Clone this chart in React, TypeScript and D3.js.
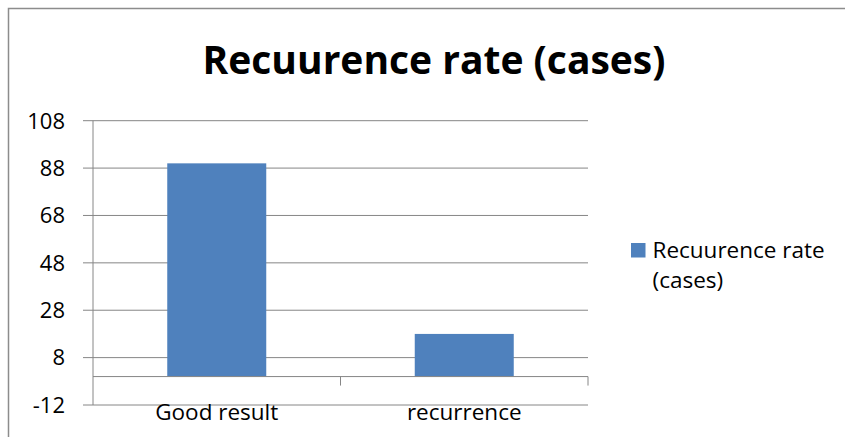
import React from "react";
import * as d3 from "d3";

const categories = ["Good result", "recurrence"];
const values = [90, 18];
const yTicks = [-12, 8, 28, 48, 68, 88, 108];
const title = "Recuurence rate (cases)";
const legendLines = ["Recuurence rate", "(cases)"];

const W = 845;
const H = 437;
const FONT = "'Open Sans', sans-serif";

export default function App() {
  const left = 93;
  const right = 588;
  const top = 120.7;
  const bottom = 405;
  const y = d3.scaleLinear().domain([-12, 108]).range([bottom, top]);
  const x = d3.scaleBand<string>().domain(categories).range([left, right]).paddingInner(0.6).paddingOuter(0.3);
  const band = (right - left) / categories.length;
  const y0 = y(0);
  const barColor = "#4F81BD";
  const grid = "#868686";

  return (
    <svg width={W} height={H} style={{ position: "absolute", left: 0, top: 0, background: "#fff" }}>
      <rect x={8.5} y={8.5} width={W} height={H} fill="#fff" stroke="#8c8c8c" strokeWidth={1.5} />
      <text x={434} y={73.5} textAnchor="middle" fontFamily={FONT} fontWeight="bold" fontSize={39} fill="#000">
        {title}
      </text>
      {yTicks.map((t) => (
        <g key={t}>
          <line x1={left - 10} x2={right} y1={y(t)} y2={y(t)} stroke={grid} strokeWidth={1} />
          <text x={65} y={y(t) + 7.8} textAnchor="end" fontFamily={FONT} fontSize={22} fill="#000">
            {t}
          </text>
        </g>
      ))}
      <line x1={left} x2={left} y1={top} y2={bottom} stroke={grid} strokeWidth={1} />
      {categories.map((c, i) => (
        <rect
          key={c}
          x={x(c)}
          width={x.bandwidth()}
          y={y(Math.max(0, values[i]))}
          height={Math.abs(y(values[i]) - y0)}
          fill={barColor}
        />
      ))}
      <line x1={left} x2={right} y1={y0} y2={y0} stroke={grid} strokeWidth={1} />
      {categories.map((c, i) => (
        <line key={"t" + c} x1={left + band * (i + 1)} x2={left + band * (i + 1)} y1={y0} y2={y0 + 9} stroke={grid} strokeWidth={1} />
      ))}
      {categories.map((c, i) => (
        <text key={"l" + c} x={left + band * (i + 0.5)} y={420} textAnchor="middle" fontFamily={FONT} fontSize={22.5} fill="#000">
          {c}
        </text>
      ))}
      <rect x={631} y={243} width={14.5} height={14.5} fill={barColor} />
      {legendLines.map((l, i) => (
        <text key={l} x={652.5} y={258 + i * 30} fontFamily={FONT} fontSize={22.5} fill="#000">
          {l}
        </text>
      ))}
    </svg>
  );
}
